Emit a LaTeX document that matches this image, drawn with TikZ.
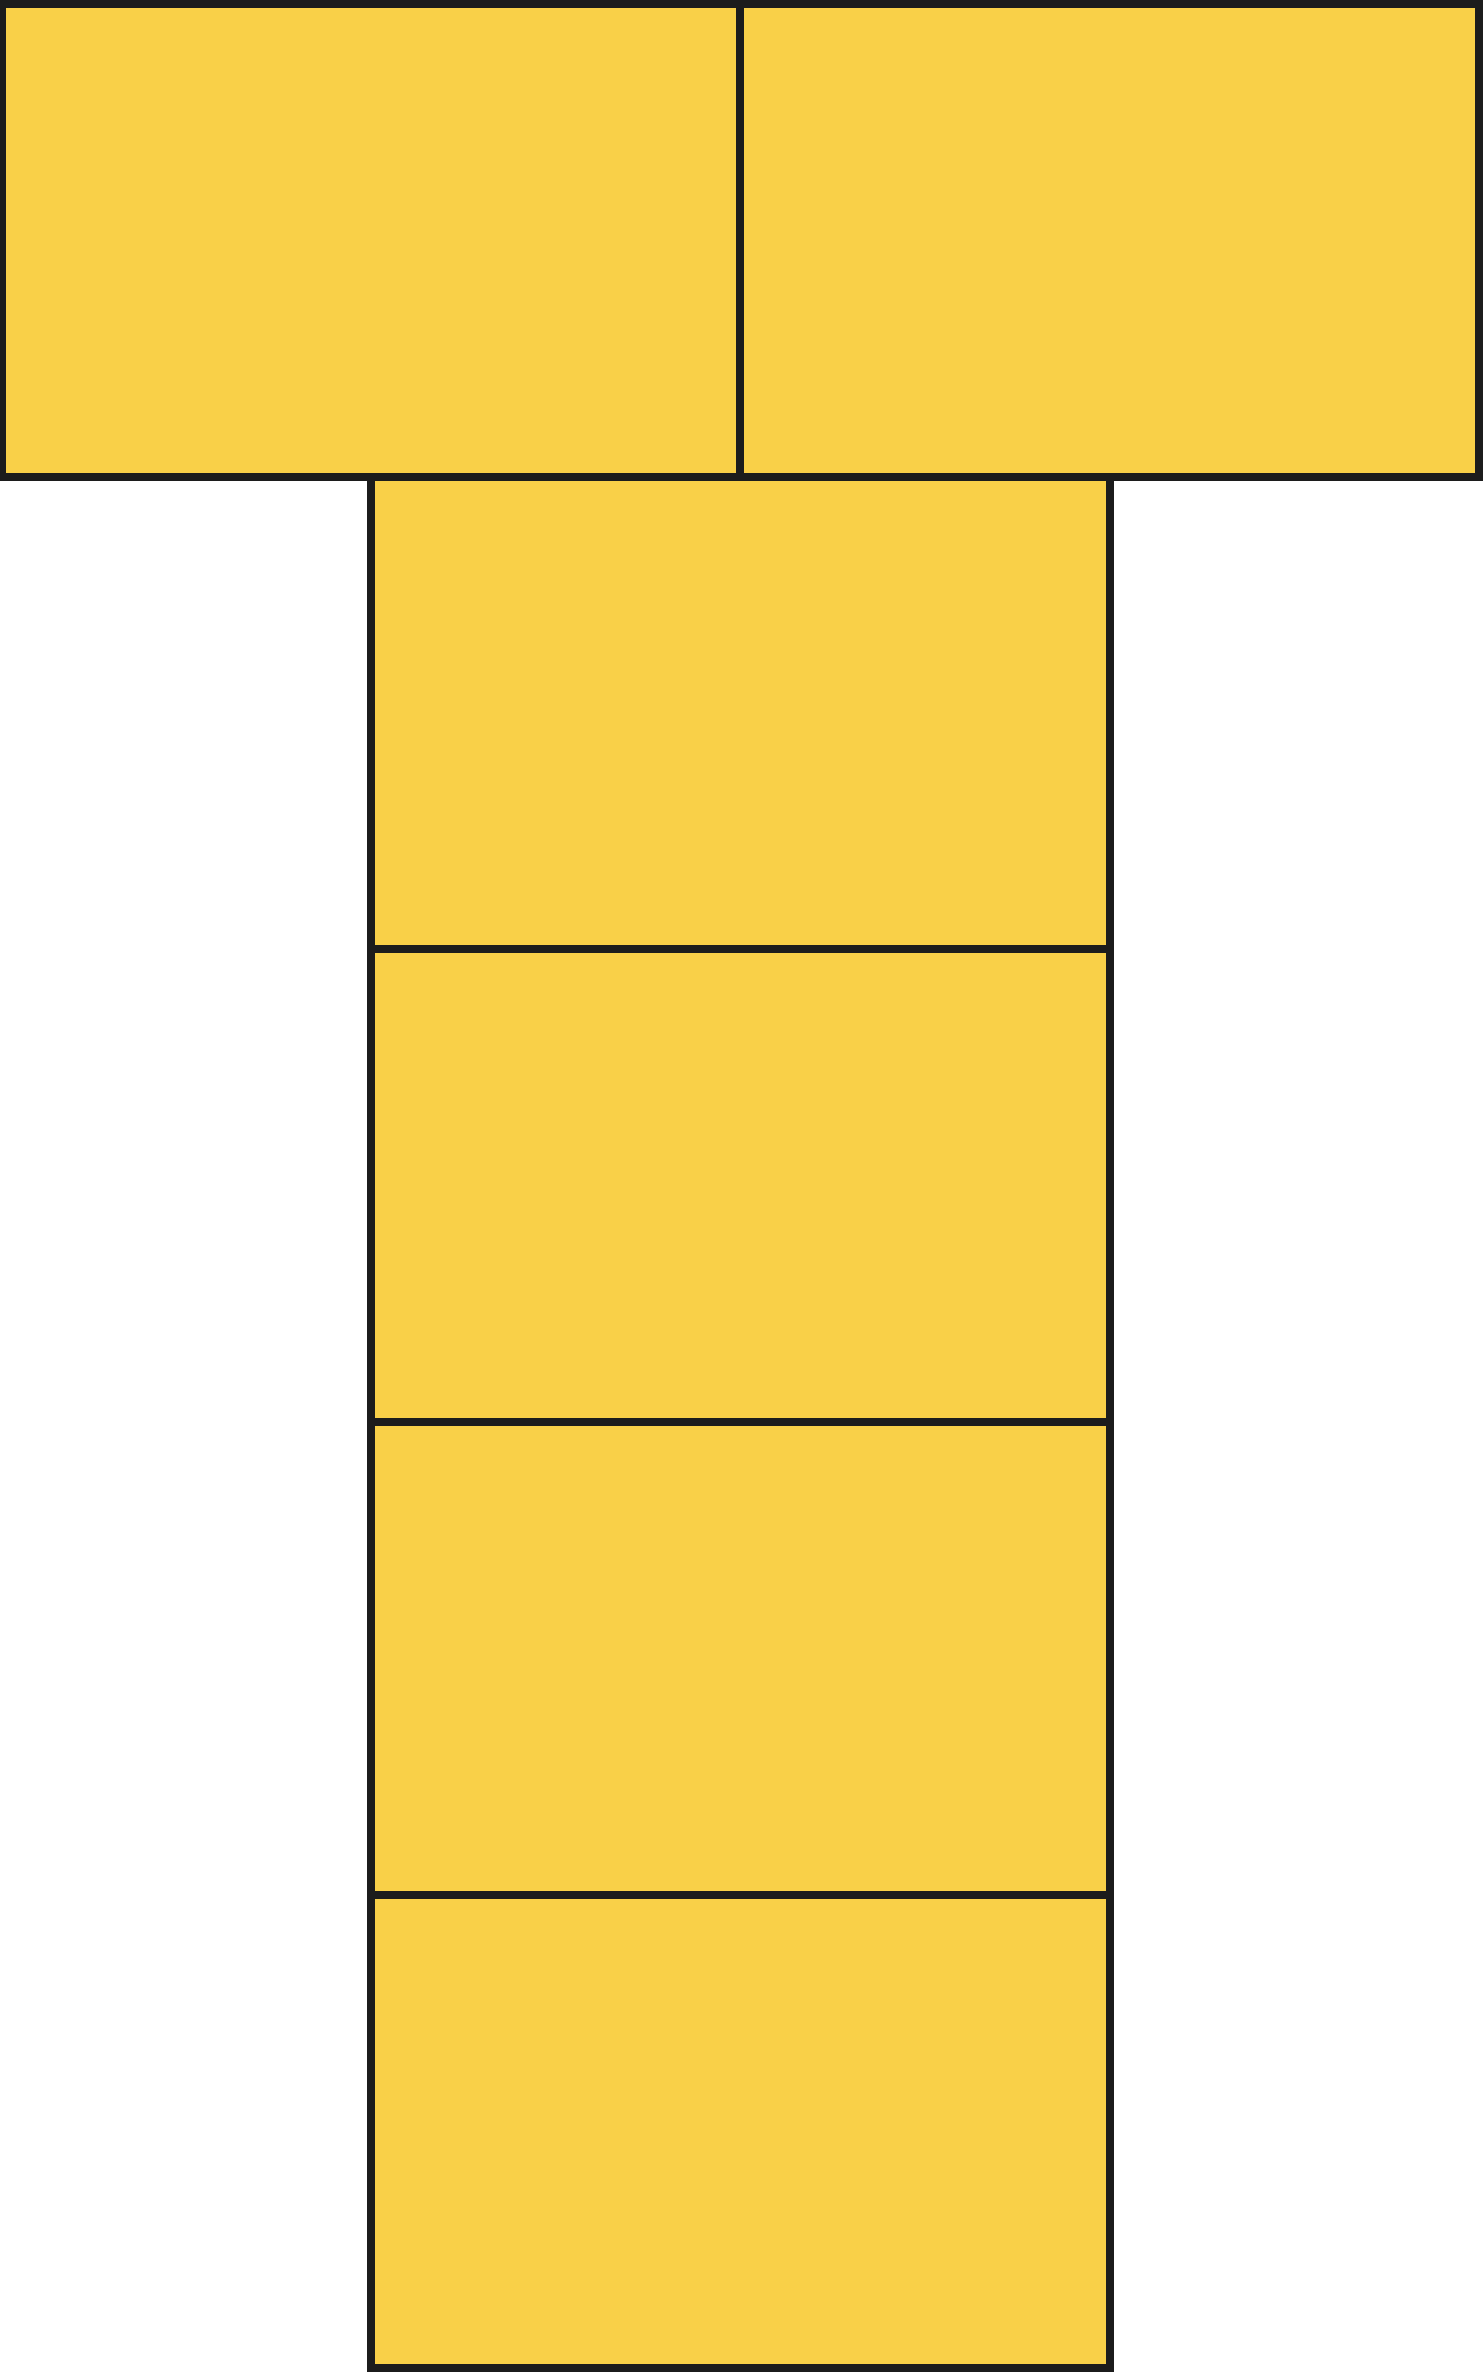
\documentclass[tikz,border=0pt]{standalone}
\usepackage{tikz}
\definecolor{cellyellow}{RGB}{249,208,72}
\definecolor{celledge}{RGB}{28,28,28}

\begin{document}
\begin{tikzpicture}
[every node/.style={inner sep=0pt, outer sep=0pt},
 cell/.style={rectangle, minimum width=184.75pt, minimum height=118.25pt, fill=cellyellow, line width=2pt, draw=celledge}]
\useasboundingbox (0pt, 0pt) rectangle (371pt, -593pt);
\node (l) [cell] at (92.75pt, -60.125pt) {};
\node (r) [cell] at (277.375pt, -60.125pt) {};
\node (s1) [cell, minimum height=118pt] at (185.125pt, -178.25pt) {};
\node (s2) [cell] at (185.125pt, -296.375pt) {};
\node (s3) [cell] at (185.125pt, -414.625pt) {};
\node (s4) [cell] at (185.125pt, -532.875pt) {};
\end{tikzpicture}
\end{document}
